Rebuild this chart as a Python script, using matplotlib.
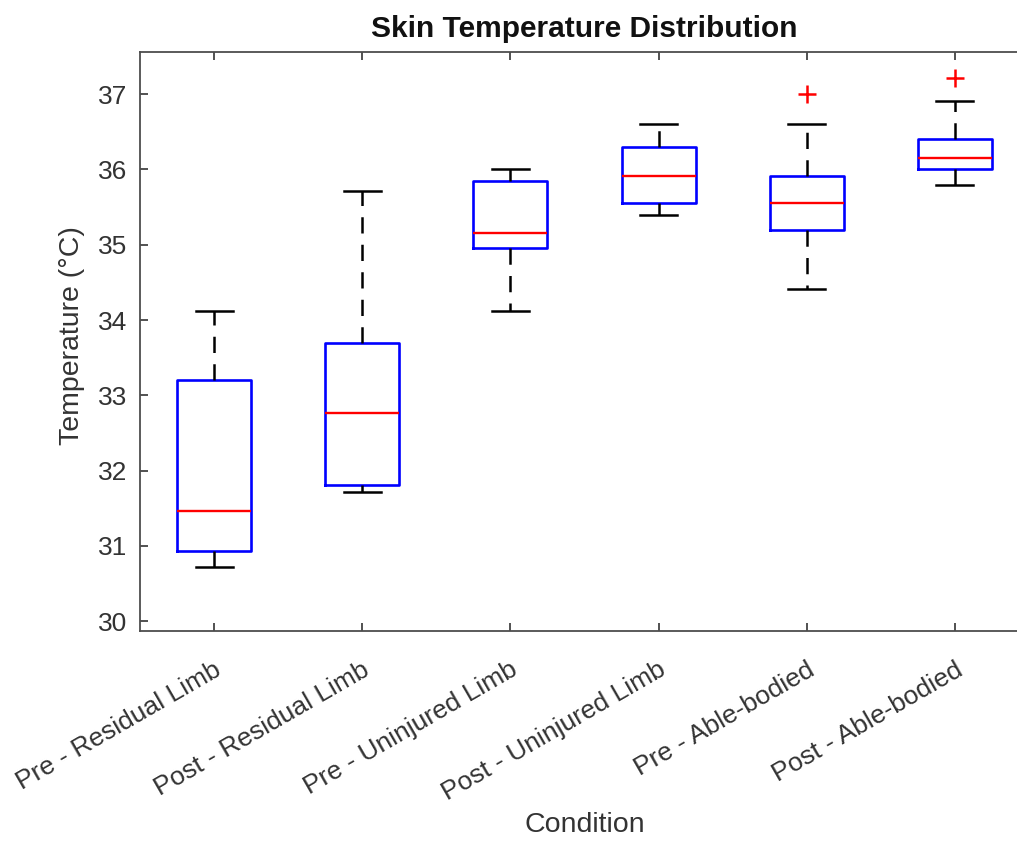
import matplotlib
matplotlib.use("Agg")
import matplotlib.pyplot as plt
import matplotlib.transforms as mtransforms

plt.rcParams['font.family'] = ['Liberation Sans', 'DejaVu Sans']

categories = ["Pre - Residual Limb", "Post - Residual Limb", "Pre - Uninjured Limb",
              "Post - Uninjured Limb", "Pre - Able-bodied", "Post - Able-bodied"]
whisker_low = [30.72, 31.71, 34.12, 35.40, 34.41, 35.80]
q1 = [30.93, 31.81, 34.96, 35.56, 35.20, 36.00]
median = [31.46, 32.76, 35.15, 35.91, 35.56, 36.15]
q3 = [33.20, 33.70, 35.85, 36.30, 35.91, 36.40]
whisker_high = [34.12, 35.72, 36.00, 36.61, 36.61, 36.91]
outliers = [[], [], [], [], [37.0], [37.21]]

stats = []
for i, name in enumerate(categories):
    stats.append(dict(label=name, whislo=whisker_low[i], q1=q1[i], med=median[i],
                      q3=q3[i], whishi=whisker_high[i], fliers=outliers[i]))

txt = "#333333"
fig = plt.figure(figsize=(10.17, 8.42), dpi=100)
ax = fig.add_axes([140 / 1017, 1 - 631 / 842, (1029 - 140) / 1017, (631 - 52) / 842])

ax.bxp(stats, positions=range(1, 7), widths=0.5, capwidths=0.25,
       boxprops=dict(color="#0000ff", linewidth=1.9),
       medianprops=dict(color="#ff0000", linewidth=1.7),
       whiskerprops=dict(color="black", linewidth=1.8, linestyle=(0, (6.5, 4.5))),
       capprops=dict(color="black", linewidth=1.8),
       flierprops=dict(marker="+", markeredgecolor="#ff0000", markersize=13,
                       markeredgewidth=1.8, linestyle="none"))

ax.set_xlim(0.5, 6.5)
ax.set_ylim(29.87, 37.56)
ax.set_yticks(range(30, 38))
ax.set_xticks(range(1, 7))
ax.set_xticklabels(categories, rotation=30, ha="right", va="baseline",
                   rotation_mode="anchor", fontsize=19, color=txt)
ax.tick_params(axis="both", direction="in", length=6, width=1.2, colors=txt,
               top=True, right=True, labelsize=19)
ax.tick_params(axis="x", pad=31)
ax.tick_params(axis="y", pad=9)
offset = mtransforms.ScaledTranslation(9 / 100, 0, fig.dpi_scale_trans)
for lbl in ax.get_xticklabels():
    lbl.set_transform(lbl.get_transform() + offset)
for s in ax.spines.values():
    s.set_color("#4d4d4d")
    s.set_linewidth(1.3)

ax.set_title("Skin Temperature Distribution", fontsize=21.5, fontweight="bold",
             color="#111111", pad=11)
ax.set_ylabel("Temperature (°C)", fontsize=20.5, color=txt)
ax.yaxis.set_label_coords(-0.062, 0.51)
ax.set_xlabel("Condition", fontsize=20.5, color=txt, labelpad=5)

fig.savefig("out.png", dpi=100)
